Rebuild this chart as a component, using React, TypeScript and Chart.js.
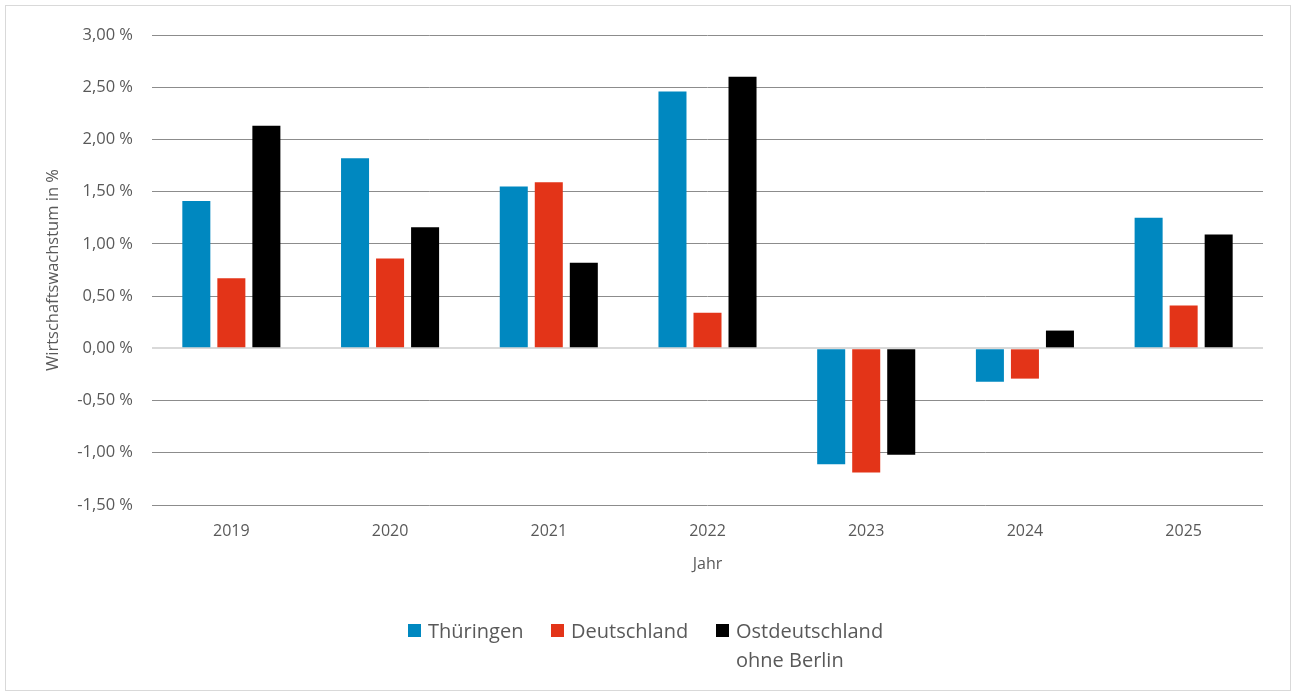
import React, { useEffect, useRef } from "react";
import { Chart, registerables } from "chart.js";

Chart.register(...registerables);

const years = ["2019", "2020", "2021", "2022", "2023", "2024", "2025"];
const thueringen = [1.41, 1.82, 1.55, 2.46, -1.11, -0.32, 1.25];
const deutschland = [0.67, 0.86, 1.59, 0.34, -1.19, -0.29, 0.41];
const ostdeutschland = [2.13, 1.16, 0.82, 2.60, -1.02, 0.17, 1.09];
const seriesNames = ["Thüringen", "Deutschland", "Ostdeutschland ohne Berlin"];
const colors = ["#0088C0", "#E33418", "#000000"];

const FONT = "'Open Sans', sans-serif";
const TEXT = "#595959";

export default function App() {
  const ref = useRef<HTMLCanvasElement | null>(null);

  useEffect(() => {
    document.body.style.margin = "0";
    const ctx = ref.current!;
    const chart = new Chart(ctx, {
      type: "bar",
      data: {
        labels: years,
        datasets: [thueringen, deutschland, ostdeutschland].map((d, i) => ({
          label: seriesNames[i],
          data: d,
          backgroundColor: colors[i],
          borderWidth: 0,
          categoryPercentage: 0.662,
          barPercentage: 0.8,
        })),
      },
      options: {
        animation: false,
        responsive: false,
        maintainAspectRatio: false,
        layout: { padding: { left: 43, top: 35, right: 30, bottom: 113 } },
        plugins: { legend: { display: false }, tooltip: { enabled: false } },
        scales: {
          x: {
            grid: { display: false },
            border: { display: false },
            ticks: { color: TEXT, font: { family: FONT, size: 16 }, padding: 9 },
            title: {
              display: true,
              text: "Jahr",
              color: TEXT,
              font: { family: FONT, size: 16 },
              padding: { top: 0, bottom: 6 },
            },
            afterFit: (s: any) => {
              s.height = 75;
            },
          },
          y: {
            min: -1.5,
            max: 3,
            border: { display: false },
            grid: {
              drawTicks: false,
              color: (c: any) => (c.tick && c.tick.value === 0 ? "#D9D9D9" : "#8C8C8C"),
              lineWidth: (c: any) => (c.tick && c.tick.value === 0 ? 2 : 1),
            },
            ticks: {
              stepSize: 0.5,
              color: TEXT,
              font: { family: FONT, size: 16.5 },
              padding: 19,
              callback: (v: any) => Number(v).toFixed(2).replace(".", ",") + " %",
            },
            title: {
              display: true,
              text: "Wirtschaftswachstum in %",
              color: TEXT,
              font: { family: FONT, size: 16.5 },
              padding: { top: 0, bottom: 0 },
            },
            afterFit: (s: any) => {
              s.width = 109;
            },
          },
        },
      },
    });
    return () => chart.destroy();
  }, []);

  const legendItem = (left: number, i: number, lines: string[]) => (
    <div
      key={i}
      style={{
        position: "absolute",
        left,
        top: 616,
        display: "flex",
        alignItems: "flex-start",
        fontFamily: FONT,
        fontSize: 20,
        color: TEXT,
        lineHeight: "29px",
      }}
    >
      <span
        style={{
          display: "inline-block",
          width: 13,
          height: 13,
          background: colors[i],
          marginTop: 8,
          marginRight: 7,
        }}
      />
      <span>
        {lines.map((l, k) => (
          <div key={k}>{l}</div>
        ))}
      </span>
    </div>
  );

  return (
    <div style={{ position: "relative", width: 1293, height: 693, background: "#fff" }}>
      <canvas ref={ref} width={1293} height={693} style={{ position: "absolute", left: 0, top: 0 }} />
      <div
        style={{
          position: "absolute",
          left: 5,
          top: 5,
          width: 1284,
          height: 684,
          border: "1px solid #D9D9D9",
          pointerEvents: "none",
        }}
      />
      {legendItem(408, 0, ["Thüringen"])}
      {legendItem(551, 1, ["Deutschland"])}
      {legendItem(716, 2, ["Ostdeutschland", "ohne Berlin"])}
    </div>
  );
}
